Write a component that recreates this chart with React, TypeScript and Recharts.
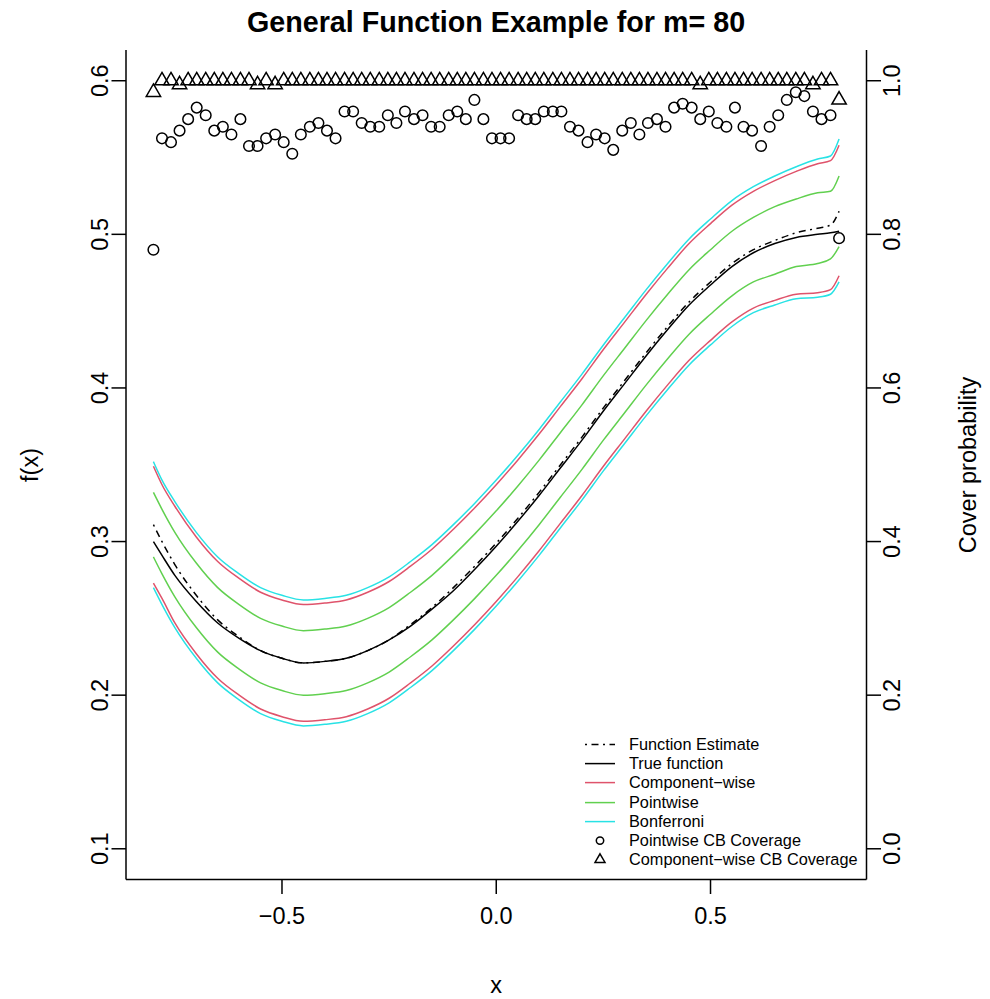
import {
  ComposedChart,
  Line,
  Scatter,
  XAxis,
  YAxis,
} from "recharts";

// grid the coverage was evaluated on (m = 80 points on [-0.8, 0.8])
const gridX = [
  -0.8, -0.78, -0.759, -0.739, -0.719, -0.699, -0.678, -0.658, -0.638, -0.618,
  -0.597, -0.577, -0.557, -0.537, -0.516, -0.496, -0.476, -0.456, -0.435, -0.415,
  -0.395, -0.375, -0.354, -0.334, -0.314, -0.294, -0.273, -0.253, -0.233, -0.213,
  -0.192, -0.172, -0.152, -0.132, -0.111, -0.091, -0.071, -0.051, -0.03, -0.01,
  0.01, 0.03, 0.051, 0.071, 0.091, 0.111, 0.132, 0.152, 0.172, 0.192,
  0.213, 0.233, 0.253, 0.273, 0.294, 0.314, 0.334, 0.354, 0.375, 0.395,
  0.415, 0.435, 0.456, 0.476, 0.496, 0.516, 0.537, 0.557, 0.577, 0.597,
  0.618, 0.638, 0.658, 0.678, 0.699, 0.719, 0.739, 0.759, 0.78, 0.8,
];

const pointwiseCov = [
  0.78, 0.925, 0.92, 0.935, 0.95, 0.965, 0.955, 0.935, 0.94, 0.93,
  0.95, 0.915, 0.915, 0.925, 0.93, 0.92, 0.905, 0.93, 0.94, 0.945,
  0.935, 0.925, 0.96, 0.96, 0.945, 0.94, 0.94, 0.955, 0.945, 0.96,
  0.95, 0.955, 0.94, 0.94, 0.955, 0.96, 0.95, 0.975, 0.95, 0.925,
  0.925, 0.925, 0.955, 0.95, 0.95, 0.96, 0.96, 0.96, 0.94, 0.935,
  0.92, 0.93, 0.925, 0.91, 0.935, 0.945, 0.93, 0.945, 0.95, 0.94,
  0.965, 0.97, 0.965, 0.95, 0.96, 0.945, 0.94, 0.965, 0.94, 0.935,
  0.915, 0.94, 0.955, 0.975, 0.985, 0.98, 0.96, 0.95, 0.955, 0.795,
];

const componentCov = [
  0.985, 1, 1, 0.995, 1, 1, 1, 1, 1, 1,
  1, 1, 0.995, 1, 0.995, 1, 1, 1, 1, 1,
  1, 1, 1, 1, 1, 1, 1, 1, 1, 1,
  1, 1, 1, 1, 1, 1, 1, 1, 1, 1,
  1, 1, 1, 1, 1, 1, 1, 1, 1, 1,
  1, 1, 1, 1, 1, 1, 1, 1, 1, 1,
  1, 1, 1, 0.995, 1, 1, 1, 1, 1, 1,
  1, 1, 1, 1, 1, 1, 0.995, 1, 1, 0.975,
];

// curves and confidence bands
const curveX = [
  -0.8, -0.78, -0.75, -0.7, -0.65, -0.6, -0.55, -0.5, -0.45, -0.4, -0.35, -0.3,
  -0.25, -0.2, -0.15, -0.1, -0.05, 0, 0.05, 0.1, 0.15, 0.2, 0.25, 0.3, 0.35,
  0.4, 0.45, 0.5, 0.55, 0.6, 0.65, 0.7, 0.75, 0.78, 0.8,
];
const estimate = [
  0.311, 0.3, 0.285, 0.265, 0.249, 0.238, 0.229, 0.224, 0.221, 0.222, 0.224, 0.229,
  0.236, 0.246, 0.257, 0.27, 0.284, 0.299, 0.315, 0.332, 0.35, 0.368, 0.387, 0.405, 0.423,
  0.44, 0.456, 0.469, 0.481, 0.49, 0.496, 0.501, 0.504, 0.506, 0.515,
];
const trueFn = [
  0.3, 0.291, 0.278, 0.261, 0.247, 0.237, 0.229, 0.224, 0.221, 0.222, 0.224, 0.229,
  0.236, 0.245, 0.256, 0.268, 0.282, 0.297, 0.313, 0.33, 0.348, 0.366, 0.385, 0.403, 0.421,
  0.438, 0.454, 0.467, 0.479, 0.488, 0.494, 0.498, 0.5, 0.501, 0.502,
];
const cwUpper = [
  0.349, 0.337, 0.323, 0.303, 0.287, 0.276, 0.267, 0.262, 0.259, 0.26, 0.262, 0.267,
  0.274, 0.284, 0.295, 0.308, 0.322, 0.337, 0.353, 0.37, 0.388, 0.406, 0.425, 0.443, 0.461,
  0.478, 0.494, 0.507, 0.519, 0.528, 0.535, 0.541, 0.546, 0.548, 0.558,
];
const cwLower = [
  0.273, 0.263, 0.247, 0.227, 0.211, 0.2, 0.191, 0.186, 0.183, 0.184, 0.186, 0.191,
  0.198, 0.208, 0.219, 0.232, 0.246, 0.261, 0.277, 0.294, 0.312, 0.33, 0.349, 0.367, 0.385,
  0.402, 0.418, 0.431, 0.443, 0.452, 0.457, 0.461, 0.462, 0.464, 0.473,
];
const pwUpper = [
  0.332, 0.321, 0.306, 0.286, 0.27, 0.259, 0.25, 0.245, 0.242, 0.243, 0.245, 0.25,
  0.257, 0.267, 0.278, 0.291, 0.305, 0.32, 0.336, 0.353, 0.371, 0.389, 0.408, 0.426, 0.444,
  0.461, 0.477, 0.49, 0.502, 0.511, 0.518, 0.523, 0.527, 0.528, 0.538,
];
const pwLower = [
  0.29, 0.279, 0.264, 0.244, 0.228, 0.217, 0.208, 0.203, 0.2, 0.201, 0.203, 0.208,
  0.215, 0.225, 0.236, 0.249, 0.263, 0.278, 0.294, 0.311, 0.329, 0.347, 0.366, 0.384, 0.402,
  0.419, 0.435, 0.448, 0.46, 0.469, 0.474, 0.479, 0.481, 0.484, 0.492,
];
const bfUpper = [
  0.352, 0.34, 0.326, 0.306, 0.29, 0.279, 0.27, 0.265, 0.262, 0.263, 0.265, 0.27,
  0.277, 0.287, 0.298, 0.311, 0.325, 0.34, 0.356, 0.373, 0.391, 0.409, 0.428, 0.446, 0.464,
  0.481, 0.497, 0.51, 0.522, 0.531, 0.538, 0.544, 0.549, 0.551, 0.562,
];
const bfLower = [
  0.27, 0.259, 0.244, 0.224, 0.208, 0.197, 0.188, 0.183, 0.18, 0.181, 0.183, 0.188,
  0.195, 0.205, 0.216, 0.229, 0.243, 0.258, 0.274, 0.291, 0.309, 0.327, 0.346, 0.364, 0.382,
  0.399, 0.415, 0.428, 0.44, 0.449, 0.454, 0.458, 0.459, 0.461, 0.469,
];

const fTicks = [0.1, 0.2, 0.3, 0.4, 0.5, 0.6];
const pTicks = [0, 0.2, 0.4, 0.6, 0.8, 1];
const xTicks = [-0.5, 0, 0.5];

const RED = "#DF536B";
const GREEN = "#61D04F";
const CYAN = "#28E2E5";
const FONT = '"Liberation Sans", Arial, Helvetica, sans-serif';

const curves = curveX.map((x, i) => ({
  x,
  estimate: estimate[i],
  trueFn: trueFn[i],
  cwUpper: cwUpper[i],
  cwLower: cwLower[i],
  pwUpper: pwUpper[i],
  pwLower: pwLower[i],
  bfUpper: bfUpper[i],
  bfLower: bfLower[i],
}));
const pwPoints = gridX.map((x, i) => ({ x, p: pointwiseCov[i] }));
const cwPoints = gridX.map((x, i) => ({ x, p: componentCov[i] }));

const fmt = (v: number) => (v < 0 ? "\u2212" : "") + Math.abs(v).toFixed(1);

const TICK = 14.5;
const LABEL_SIZE = 23.5;

const LeftTick = ({ x, y, payload }: any) => {
  const cx = x - 11.5;
  return (
    <text x={cx} y={y} transform={`rotate(-90, ${cx}, ${y})`} textAnchor="middle"
      dominantBaseline="central" fontSize={LABEL_SIZE} fontFamily={FONT} fill="#000">
      {fmt(payload.value)}
    </text>
  );
};
const RightTick = ({ x, y, payload }: any) => {
  const cx = x + 11.5;
  return (
    <text x={cx} y={y} transform={`rotate(-90, ${cx}, ${y})`} textAnchor="middle"
      dominantBaseline="central" fontSize={LABEL_SIZE} fontFamily={FONT} fill="#000">
      {fmt(payload.value)}
    </text>
  );
};
const BottomTick = ({ x, y, payload }: any) => (
  <text x={x} y={y + 20} textAnchor="middle" dominantBaseline="central"
    fontSize={LABEL_SIZE} fontFamily={FONT} fill="#000">
    {fmt(payload.value)}
  </text>
);

const Circle = ({ cx, cy }: any) => (
  <circle cx={cx} cy={cy} r={5.3} fill="none" stroke="#000" strokeWidth={1.5} />
);
const Triangle = ({ cx, cy }: any) => {
  const r = 8.3;
  const hw = r * 0.866;
  return (
    <path d={`M${cx},${cy - r}L${cx + hw},${cy + r / 2}L${cx - hw},${cy + r / 2}Z`}
      fill="none" stroke="#000" strokeWidth={1.5} />
  );
};

const legendItems = [
  { label: "Function Estimate", kind: "line", color: "#000", dash: "2 4.5 7 4.5" },
  { label: "True function", kind: "line", color: "#000" },
  { label: "Component\u2212wise", kind: "line", color: RED },
  { label: "Pointwise", kind: "line", color: GREEN },
  { label: "Bonferroni", kind: "line", color: CYAN },
  { label: "Pointwise CB Coverage", kind: "circle", color: "#000" },
  { label: "Component\u2212wise CB Coverage", kind: "triangle", color: "#000" },
];

function LegendBox() {
  return (
    <div style={{ position: "absolute", left: 583, top: 735, fontFamily: FONT, fontSize: 16.3 }}>
      {legendItems.map((it) => (
        <div key={it.label} style={{ height: 19.2, display: "flex", alignItems: "center" }}>
          <svg width={34} height={19.2} style={{ display: "block" }}>
            {it.kind === "line" && (
              <line x1={2} x2={32} y1={9.6} y2={9.6} stroke={it.color} strokeWidth={1.5}
                strokeDasharray={it.dash} />
            )}
            {it.kind === "circle" && (
              <circle cx={17} cy={9.6} r={3.7} fill="none" stroke="#000" strokeWidth={1.5} />
            )}
            {it.kind === "triangle" && (
              <path d="M17,3.8L22,12.5L12,12.5Z" fill="none" stroke="#000" strokeWidth={1.5} />
            )}
          </svg>
          <span style={{ marginLeft: 12, whiteSpace: "nowrap" }}>{it.label}</span>
        </div>
      ))}
    </div>
  );
}

const lineProps = {
  yAxisId: "f",
  type: "monotone" as const,
  dot: false,
  activeDot: false,
  strokeWidth: 1.5,
  isAnimationActive: false,
};

export default function App() {
  return (
    <div style={{ position: "absolute", left: 0, top: 0, width: 990, height: 999, background: "#fff", fontFamily: FONT }}>
      <ComposedChart width={990} height={999} data={curves}
        margin={{ top: 50, right: 0, bottom: 0, left: 0 }}>
        <XAxis dataKey="x" type="number" domain={[-0.864, 0.864]} ticks={xTicks}
          allowDataOverflow height={119.5} tickSize={TICK} tick={<BottomTick />}
          axisLine={{ stroke: "#000", strokeWidth: 1.5 }} tickLine={{ stroke: "#000", strokeWidth: 1.5 }} />
        <XAxis xAxisId="top" orientation="top" dataKey="x" type="number" domain={[-0.864, 0.864]}
          allowDataOverflow height={0} tick={false} tickLine={false}
          axisLine={{ stroke: "#000", strokeWidth: 1.5 }} />
        <YAxis yAxisId="f" type="number" domain={[0.08, 0.62]} ticks={fTicks} allowDataOverflow
          width={126} tickSize={TICK} tickMargin={0} tick={<LeftTick />}
          axisLine={{ stroke: "#000", strokeWidth: 1.5 }} tickLine={{ stroke: "#000", strokeWidth: 1.5 }} />
        <YAxis yAxisId="p" orientation="right" dataKey="p" type="number" domain={[-0.04, 1.04]}
          ticks={pTicks} allowDataOverflow width={123.5} tickSize={TICK} tickMargin={0}
          tick={<RightTick />}
          axisLine={{ stroke: "#000", strokeWidth: 1.5 }} tickLine={{ stroke: "#000", strokeWidth: 1.5 }} />

        <Line {...lineProps} dataKey="estimate" stroke="#000" strokeDasharray="2 4.5 7 4.5" />
        <Line {...lineProps} dataKey="trueFn" stroke="#000" />
        <Line {...lineProps} dataKey="cwUpper" stroke={RED} />
        <Line {...lineProps} dataKey="cwLower" stroke={RED} />
        <Line {...lineProps} dataKey="pwUpper" stroke={GREEN} />
        <Line {...lineProps} dataKey="pwLower" stroke={GREEN} />
        <Line {...lineProps} dataKey="bfUpper" stroke={CYAN} />
        <Line {...lineProps} dataKey="bfLower" stroke={CYAN} />

        <Scatter yAxisId="p" data={pwPoints} dataKey="p" shape={<Circle />} isAnimationActive={false} />
        <Scatter yAxisId="p" data={cwPoints} dataKey="p" shape={<Triangle />} isAnimationActive={false} />
      </ComposedChart>

      <div style={{ position: "absolute", left: 496, top: 22, transform: "translate(-50%, -50%)", fontSize: 28.7, fontWeight: "bold", whiteSpace: "nowrap" }}>
        General Function Example for m= 80
      </div>
      <div style={{ position: "absolute", left: 496, top: 985, transform: "translate(-50%, -50%)", fontSize: LABEL_SIZE }}>
        x
      </div>
      <div style={{ position: "absolute", left: 30, top: 465, transform: "translate(-50%, -50%) rotate(-90deg)", fontSize: LABEL_SIZE, whiteSpace: "nowrap" }}>
        f(x)
      </div>
      <div style={{ position: "absolute", left: 968, top: 465, transform: "translate(-50%, -50%) rotate(-90deg)", fontSize: LABEL_SIZE, whiteSpace: "nowrap" }}>
        Cover probability
      </div>
      <LegendBox />
    </div>
  );
}
